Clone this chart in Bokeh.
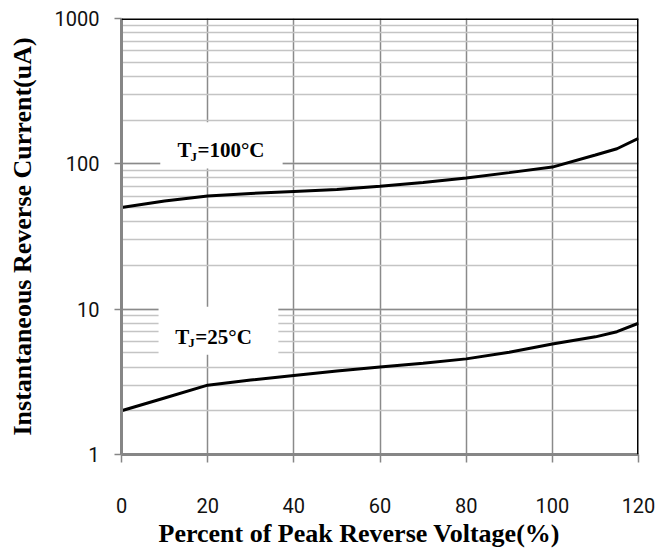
from bokeh.plotting import figure
from bokeh.models import FixedTicker, LogTicker, Span, ColumnDataSource, PrintfTickFormatter, Title
from bokeh.core.properties import value
from bokeh.embed import file_html
from bokeh.resources import INLINE

# Data
x_pct = [0, 10, 20, 30, 40, 50, 60, 70, 80, 90, 100, 110, 115, 120]
i_100c = [50, 55.5, 60, 62.5, 64.5, 66.5, 70, 74.5, 80, 87, 95, 115, 127, 150]
i_25c = [2.0, 2.45, 3.0, 3.25, 3.5, 3.75, 4.0, 4.25, 4.55, 5.05, 5.75, 6.45, 7.0, 8.0]

x_ticks = [0, 20, 40, 60, 80, 100, 120]
y_ticks = [1, 10, 100, 1000]

x_title = "Percent of Peak Reverse Voltage(%)"
y_title = "Instantaneous Reverse Current(uA)"

label_names = ["=100°C", "=25°C"]
label_x = [13.0, 12.5]
label_y = [124, 6.45]
box_left = [9.0, 8.6]
box_right = [37.4, 36.4]
box_top = [193, 10.4]
box_bottom = [93, 4.86]

p = figure(width=657, height=548, x_range=(0, 120), y_range=(1, 1000),
           y_axis_type="log", output_backend="svg", toolbar_location=None,
           min_border_left=121, min_border_right=19, min_border_top=18,
           min_border_bottom=0)
p.outline_line_color = None
p.background_fill_color = "white"
p.border_fill_color = "white"

# Grid
p.xgrid.ticker = FixedTicker(ticks=x_ticks)
p.xgrid.grid_line_color = "#8a8a8a"
p.xgrid.grid_line_width = 1.5
p.ygrid.grid_line_color = "#8a8a8a"
p.ygrid.grid_line_width = 1.5
p.ygrid.minor_grid_line_color = "#c4c4c4"
p.ygrid.minor_grid_line_width = 1.5

# Axes
p.xaxis.ticker = FixedTicker(ticks=x_ticks)
p.yaxis.ticker = LogTicker(num_minor_ticks=10)
p.yaxis.formatter = PrintfTickFormatter(format="%d")
for ax in (p.xaxis[0], p.yaxis[0]):
    ax.axis_line_color = "#868686"
    ax.axis_line_width = 3
    ax.major_tick_line_color = "#868686"
    ax.major_tick_line_width = 1.5
    ax.major_tick_in = 0
    ax.minor_tick_line_color = None
    ax.major_label_text_font = "Roboto"
    ax.major_label_text_font_size = "20px"
    ax.major_label_text_color = "#111111"
    ax.axis_label_text_font = "Liberation Serif"
    ax.axis_label_text_font_style = "bold"
    ax.axis_label_text_font_size = "26px"
    ax.axis_label_text_color = "black"

p.xaxis.major_tick_out = 8
p.xaxis.major_label_standoff = 35

p.yaxis.major_tick_out = 7
p.yaxis.major_label_standoff = 15
p.yaxis.axis_label = y_title
p.yaxis.axis_label_standoff = 15

# X title below, shifted left like the reference
p.add_layout(Title(text=x_title, align="left", offset=37, text_font="Liberation Serif",
                   text_font_style="bold", text_font_size="26px", text_color="black",
                   standoff=2), "below")

# Top and right border
p.add_layout(Span(location=1000, dimension="width", line_color="black", line_width=3))
p.add_layout(Span(location=120, dimension="height", line_color="black", line_width=3))

# White label boxes
p.quad(left=box_left, right=box_right, top=box_top, bottom=box_bottom,
       fill_color="white", line_color=None)

# Curves
p.line(x_pct, i_100c, line_color="black", line_width=3)
p.line(x_pct, i_25c, line_color="black", line_width=3)

# Labels: T with subscript J
src = ColumnDataSource(dict(x=label_x, y=label_y, rest=label_names,
                            t=["T", "T"], j=["J", "J"]))
p.text(x="x", y="y", text="t", source=src, text_font=value("Liberation Serif"),
       text_font_style="bold", text_font_size="21px", text_color="black",
       text_baseline="alphabetic", text_align="left")
p.text(x="x", y="y", text="j", source=src, text_font=value("Liberation Serif"),
       text_font_style="bold", text_font_size="13px", text_color="black",
       text_baseline="alphabetic", text_align="left", x_offset=13, y_offset=6)
p.text(x="x", y="y", text="rest", source=src, text_font=value("Liberation Serif"),
       text_font_style="bold", text_font_size="21px", text_color="black",
       text_baseline="alphabetic", text_align="left", x_offset=20)

open("out.html", "w").write(file_html(p, INLINE))
